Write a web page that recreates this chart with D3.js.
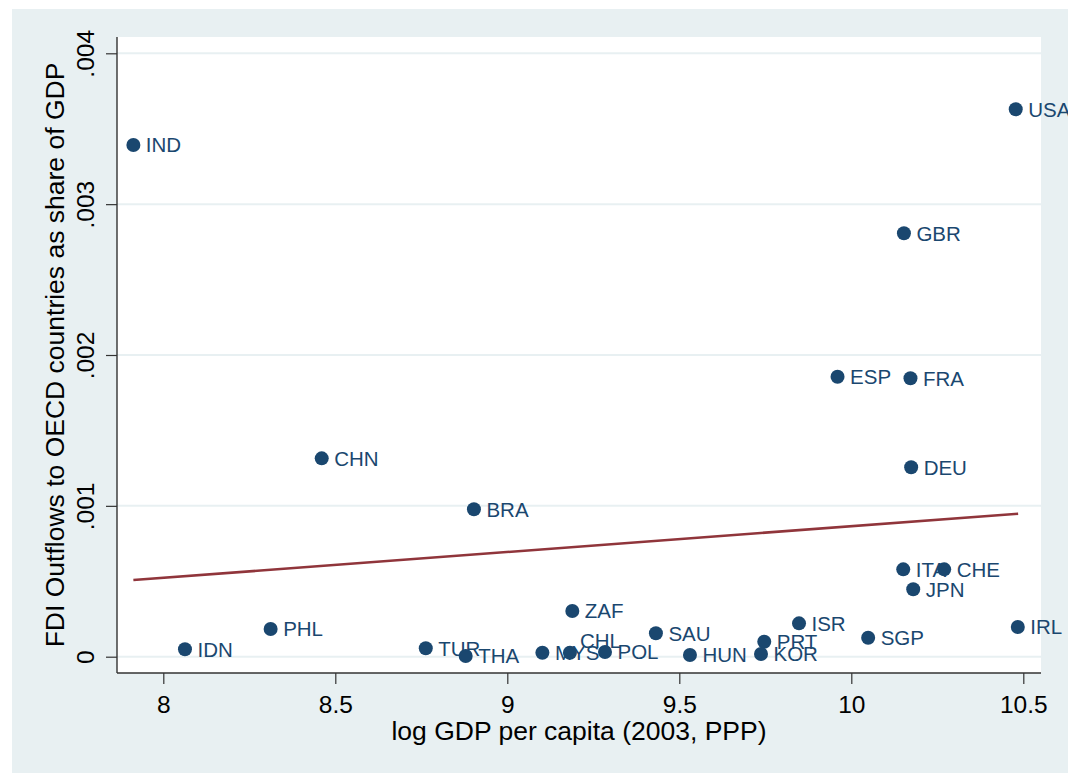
<!DOCTYPE html>
<html>
<head>
<meta charset="utf-8">
<script src="https://cdn.jsdelivr.net/npm/d3@7"></script>
<style>
  html, body { margin: 0; padding: 0; background: #ffffff; }
  svg { display: block; }
  text { font-family: "Liberation Sans", Arial, sans-serif; }
</style>
</head>
<body>
<svg id="chart" width="1068" height="773"></svg>
<script>
// ---- Data ----
const countries = ["IND","USA","GBR","ESP","FRA","DEU","CHN","BRA","ITA","CHE","JPN","ZAF","PHL","IDN","TUR","THA","MYS","CHL","POL","SAU","HUN","ISR","PRT","KOR","SGP","IRL"];
const logGdp = [7.913,10.478,10.153,9.960,10.172,10.174,8.4605,8.903,10.151,10.270,10.180,9.189,8.312,8.063,8.763,8.879,9.102,9.182,9.284,9.432,9.531,9.848,9.747,9.7375,10.049,10.484];
const fdiShare = [0.003392,0.003629,0.002807,0.001856,0.001846,0.001256,0.001315,0.000977,0.000579,0.000579,0.000447,0.000303,0.000184,0.000049,0.000056,0.0000046,0.0000265,0.0000265,0.000031,0.000155,0.000011,0.000221,0.0000994,0.0000179,0.000126,0.000197];
// marker label clock positions (Stata mlabvposition)
const labelClock = [3,3,3,3,3,3,3,3,3,3,3,3,3,3,3,3,3,2,3,3,3,3,3,3,3,3];
// fitted line endpoints
const fitX = [7.913, 10.485];
const fitY = [0.000508, 0.000948];
// ticks
const xTicks = [8, 8.5, 9, 9.5, 10, 10.5];
const xTickLabels = ["8", "8.5", "9", "9.5", "10", "10.5"];
const yTicks = [0, 0.001, 0.002, 0.003, 0.004];
const yTickLabels = ["0", ".001", ".002", ".003", ".004"];
const xTitle = "log GDP per capita (2003, PPP)";
const yTitle = "FDI Outflows to OECD countries as share of GDP";

// ---- Layout ----
const svg = d3.select("#chart");
const bg = "#e8f0f2";
const navy = "#1a476f";
const maroon = "#90353b";
const plot = { left: 117, right: 1041, top: 37, bottom: 673 };

const x = d3.scaleLinear().domain([8, 10.5]).range([163.3, 1023.3]);
const y = d3.scaleLinear().domain([0, 0.004]).range([656.7, 53.3]);

// outer graph region
svg.append("rect").attr("x", 12).attr("y", 9).attr("width", 1068 - 12).attr("height", 773 - 9).attr("fill", bg);
// plot region
svg.append("rect").attr("x", plot.left).attr("y", plot.top)
  .attr("width", plot.right - plot.left).attr("height", plot.bottom - plot.top).attr("fill", "#ffffff");

// gridlines
svg.append("g").selectAll("line").data(yTicks).join("line")
  .attr("x1", plot.left).attr("x2", plot.right)
  .attr("y1", d => y(d)).attr("y2", d => y(d))
  .attr("stroke", bg).attr("stroke-width", 2);

// fitted line
svg.append("line")
  .attr("x1", x(fitX[0])).attr("y1", y(fitY[0]))
  .attr("x2", x(fitX[1])).attr("y2", y(fitY[1]))
  .attr("stroke", maroon).attr("stroke-width", 2.6);

// Y axis
const yAxis = svg.append("g").attr("transform", `translate(${plot.left},0)`)
  .call(d3.axisLeft(y).tickValues(yTicks).tickSize(11).tickSizeOuter(0)
    .tickFormat((d, i) => yTickLabels[i]));
yAxis.select(".domain").remove();
yAxis.append("line").attr("x1", 0).attr("x2", 0).attr("y1", plot.top).attr("y2", plot.bottom)
  .attr("stroke", "#333").attr("stroke-width", 1.4);
yAxis.selectAll(".tick line").attr("stroke", "#333").attr("stroke-width", 1.2);
yAxis.selectAll(".tick text")
  .attr("x", null).attr("dy", null)
  .attr("transform", "translate(-23,0) rotate(-90)")
  .attr("text-anchor", "middle")
  .attr("fill", "#000").attr("font-size", "24.5px")
  .attr("font-family", "Liberation Sans, Arial, sans-serif");

// X axis
const xAxis = svg.append("g").attr("transform", `translate(0,${plot.bottom})`)
  .call(d3.axisBottom(x).tickValues(xTicks).tickSize(11).tickSizeOuter(0)
    .tickFormat((d, i) => xTickLabels[i]));
xAxis.select(".domain").remove();
xAxis.append("line").attr("x1", plot.left).attr("x2", plot.right).attr("y1", 0).attr("y2", 0)
  .attr("stroke", "#333").attr("stroke-width", 1.4);
xAxis.selectAll(".tick line").attr("stroke", "#333").attr("stroke-width", 1.2);
xAxis.selectAll(".tick text")
  .attr("y", 40).attr("dy", null)
  .attr("fill", "#000").attr("font-size", "24.5px")
  .attr("font-family", "Liberation Sans, Arial, sans-serif");

// axis titles
svg.append("text").attr("x", 579).attr("y", 740).attr("text-anchor", "middle")
  .attr("font-size", "26.5px").attr("fill", "#000").text(xTitle);
svg.append("text").attr("transform", "translate(64,355) rotate(-90)").attr("text-anchor", "middle")
  .attr("font-size", "26.5px").attr("fill", "#000").text(yTitle);

// points
const pts = countries.map((c, i) => ({ c, x: logGdp[i], y: fdiShare[i], pos: labelClock[i] }));
svg.append("g").selectAll("circle").data(pts).join("circle")
  .attr("cx", d => x(d.x)).attr("cy", d => y(d.y)).attr("r", 7)
  .attr("fill", navy);

// labels
svg.append("g").selectAll("text").data(pts).join("text")
  .attr("x", d => x(d.x) + (d.pos === 2 ? 10 : 12.5))
  .attr("y", d => y(d.y) + (d.pos === 2 ? -12.5 : 0))
  .attr("dy", "0.36em")
  .attr("font-size", "20.5px").attr("fill", navy)
  .text(d => d.c);
</script>
</body>
</html>
